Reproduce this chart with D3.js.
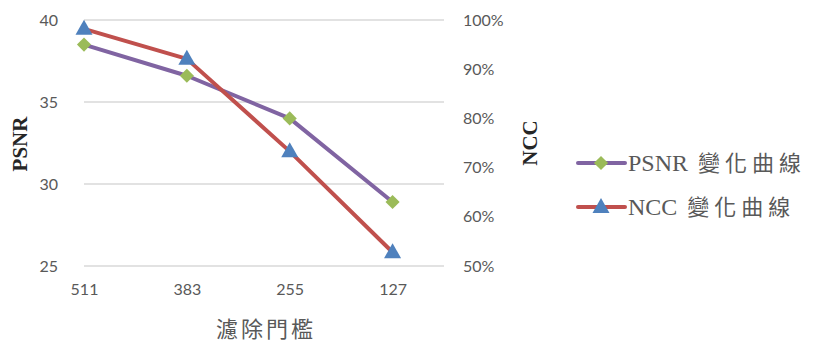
<!DOCTYPE html>
<html>
<head>
<meta charset="utf-8">
<script src="https://cdn.jsdelivr.net/npm/d3@7/dist/d3.min.js"></script>
<style>
  html, body { margin: 0; padding: 0; background: #fff; }
  svg { display: block; }
</style>
</head>
<body>
<svg id="chart" width="813" height="345"></svg>
<script>
// Filter thresholds on the x axis
const thresholds = ["511", "383", "255", "127"];
// PSNR (left axis, dB)
const psnrValues = [38.5, 36.6, 34.0, 28.9];
// NCC (right axis, fraction)
const nccValues = [0.982, 0.921, 0.733, 0.528];
// Axis ticks
const psnrTicks = [25, 30, 35, 40];
const nccTicks = [0.5, 0.6, 0.7, 0.8, 0.9, 1.0];
const seriesLabels = ["PSNR", "NCC"];
const seriesSuffix = "變化曲線";

const svg = d3.select("#chart");
const plot = { left: 84, right: 444, top: 20, bottom: 266 };

const step = (plot.right - plot.left) / 3.5;
const x = d3.scalePoint().domain(thresholds).range([plot.left, plot.left + step * 3]);
const yL = d3.scaleLinear().domain([25, 40]).range([plot.bottom, plot.top]);
const yR = d3.scaleLinear().domain([0.5, 1.0]).range([plot.bottom, plot.top]);

const tickFont = "Lato, 'Open Sans', sans-serif";
const gray = "#595959";
const serif = "'Liberation Serif', 'Times New Roman', serif";

// Gridlines
svg.append("g").selectAll("line").data(psnrTicks).join("line")
  .attr("x1", plot.left).attr("x2", plot.right)
  .attr("y1", d => yL(d)).attr("y2", d => yL(d))
  .attr("stroke", "#d9d9d9").attr("stroke-width", 1.5);

// Left axis
const leftAxis = svg.append("g").attr("transform", `translate(${plot.left},0)`)
  .call(d3.axisLeft(yL).tickValues(psnrTicks).tickSize(0).tickPadding(26));
leftAxis.select(".domain").remove();
leftAxis.selectAll("text").attr("fill", gray).attr("font-size", 16).attr("font-family", tickFont);

// Right axis
const rightAxis = svg.append("g").attr("transform", `translate(${plot.right},0)`)
  .call(d3.axisRight(yR).tickValues(nccTicks).tickSize(0).tickPadding(19).tickFormat(d3.format(".0%")));
rightAxis.select(".domain").remove();
rightAxis.selectAll("text").attr("fill", gray).attr("font-size", 16).attr("font-family", tickFont);

// Bottom axis
const bottomAxis = svg.append("g").attr("transform", `translate(0,${plot.bottom})`)
  .call(d3.axisBottom(x).tickSize(0).tickPadding(18));
bottomAxis.select(".domain").remove();
bottomAxis.selectAll("text").attr("fill", gray).attr("font-size", 16).attr("font-family", tickFont);

// Axis titles
svg.append("text")
  .attr("transform", "translate(27,144) rotate(-90)")
  .attr("text-anchor", "middle")
  .attr("font-family", serif)
  .attr("font-weight", "bold").attr("font-size", 21).attr("fill", "#262626")
  .text("PSNR");
svg.append("text")
  .attr("transform", "translate(537,143) rotate(-90)")
  .attr("text-anchor", "middle")
  .attr("font-family", serif)
  .attr("font-weight", "bold").attr("font-size", 21).attr("fill", "#262626")
  .text("NCC");
svg.append("text")
  .attr("x", 266).attr("y", 337)
  .attr("text-anchor", "middle")
  .attr("font-family", "'Noto Sans CJK TC', sans-serif")
  .attr("font-size", 22).attr("letter-spacing", 3).attr("fill", gray)
  .text("濾除門檻");

// Lines
const psnrLine = d3.line().x((d, i) => x(thresholds[i])).y(d => yL(d));
const nccLine = d3.line().x((d, i) => x(thresholds[i])).y(d => yR(d));

svg.append("path").datum(psnrValues).attr("d", psnrLine)
  .attr("fill", "none").attr("stroke", "#8064a2").attr("stroke-width", 4).attr("stroke-linejoin", "round");
svg.append("path").datum(nccValues).attr("d", nccLine)
  .attr("fill", "none").attr("stroke", "#c0504d").attr("stroke-width", 4).attr("stroke-linejoin", "round");

const diamond = d3.symbol().type(d3.symbolSquare).size(100);
const triangle = "M0,-9L8.5,6L-8.5,6Z";

svg.append("g").selectAll("path").data(psnrValues).join("path")
  .attr("d", diamond())
  .attr("transform", (d, i) => `translate(${x(thresholds[i])},${yL(d)}) rotate(45)`)
  .attr("fill", "#9bbb59");
svg.append("g").selectAll("path").data(nccValues).join("path")
  .attr("d", triangle)
  .attr("transform", (d, i) => `translate(${x(thresholds[i])},${yR(d)})`)
  .attr("fill", "#4f81bd");

// Legend
const legend = svg.append("g");
const legendRows = [
  { name: seriesLabels[0], color: "#8064a2", marker: "diamond", y: 163 },
  { name: seriesLabels[1], color: "#c0504d", marker: "triangle", y: 207 }
];
legendRows.forEach(r => {
  legend.append("line").attr("x1", 578).attr("x2", 625).attr("y1", r.y).attr("y2", r.y)
    .attr("stroke", r.color).attr("stroke-width", 4).attr("stroke-linecap", "round");
  if (r.marker === "diamond") {
    legend.append("path").attr("d", diamond())
      .attr("transform", `translate(601,${r.y}) rotate(45)`).attr("fill", "#9bbb59");
  } else {
    legend.append("path").attr("d", triangle)
      .attr("transform", `translate(601,${r.y})`).attr("fill", "#4f81bd");
  }
  const t = legend.append("text").attr("x", 628).attr("y", r.y + 8)
    .attr("font-size", 24).attr("fill", gray);
  t.append("tspan").attr("font-family", serif).text(r.name + " ");
  t.append("tspan").attr("font-family", "'Noto Sans CJK TC', sans-serif")
    .attr("font-size", 22).attr("letter-spacing", 5).attr("dx", 4)
    .text(seriesSuffix);
});
</script>
</body>
</html>
